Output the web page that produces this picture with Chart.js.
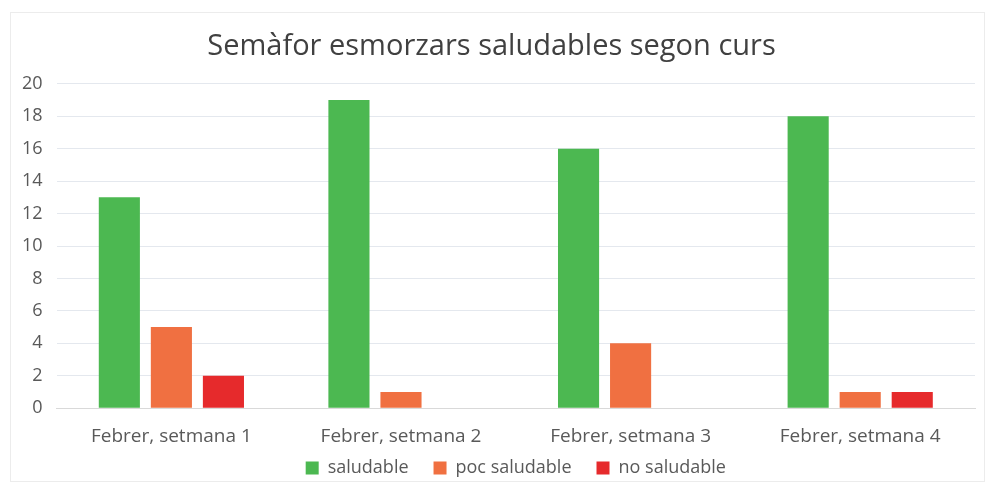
<!DOCTYPE html>
<html>
<head>
<meta charset="utf-8">
<script src="https://cdn.jsdelivr.net/npm/chart.js@4/dist/chart.umd.min.js"></script>
<style>
html,body{margin:0;padding:0;background:#fff;}
#wrap{position:absolute;left:0;top:0;width:992px;height:488px;}
#frame{position:absolute;left:10px;top:12px;width:975px;height:470px;border:1px solid #ececec;box-sizing:border-box;}
canvas{position:absolute;left:0;top:0;}
</style>
</head>
<body>
<div id="wrap"><div id="frame"></div><canvas id="c" width="992" height="488"></canvas></div>
<script>
const categories = ["Febrer, setmana 1", "Febrer, setmana 2", "Febrer, setmana 3", "Febrer, setmana 4"];
const saludable = [13, 19, 16, 18];
const pocSaludable = [5, 1, 4, 1];
const noSaludable = [2, 0, 0, 1];
const seriesNames = ["saludable", "poc saludable", "no saludable"];
const titleText = "Semàfor esmorzars saludables segon curs";

const FONT = "'Open Sans', 'Liberation Sans', sans-serif";
new Chart(document.getElementById('c'), {
  type: 'bar',
  data: {
    labels: categories,
    datasets: [
      {label: seriesNames[0], data: saludable, backgroundColor: '#4cb851', borderWidth: 0},
      {label: seriesNames[1], data: pocSaludable, backgroundColor: '#f07041', borderWidth: 0},
      {label: seriesNames[2], data: noSaludable, backgroundColor: '#e62a2c', borderWidth: 0}
    ]
  },
  options: {
    responsive: false,
    animation: false,
    layout: {padding: {left: 8, right: 17, top: 14, bottom: 1}},
    datasets: {bar: {barPercentage: 0.79, categoryPercentage: 0.68}},
    plugins: {
      title: {display: true, text: titleText, color: '#404040', font: {family: FONT, size: 29, weight: 'normal'}, padding: {top: 15, bottom: 20}},
      legend: {
        position: 'bottom',
        fullSize: false,
        title: {display: true, text: '', font: {size: 1, lineHeight: 1}, padding: {top: -24, bottom: 0}},
        labels: {color: '#595959', font: {family: FONT, size: 18}, boxWidth: 13, boxHeight: 13, padding: 25}
      },
      tooltip: {enabled: false}
    },
    scales: {
      x: {
        grid: {display: false},
        border: {color: '#d9d9d9'},
        ticks: {color: '#595959', font: {family: FONT, size: 19}, padding: 9}
      },
      y: {
        min: 0, max: 20,
        ticks: {stepSize: 2, color: '#595959', font: {family: FONT, size: 18}, padding: 14},
        grid: {color: '#e4e8ee', drawTicks: false},
        border: {display: false}
      }
    }
  }
});
</script>
</body>
</html>
